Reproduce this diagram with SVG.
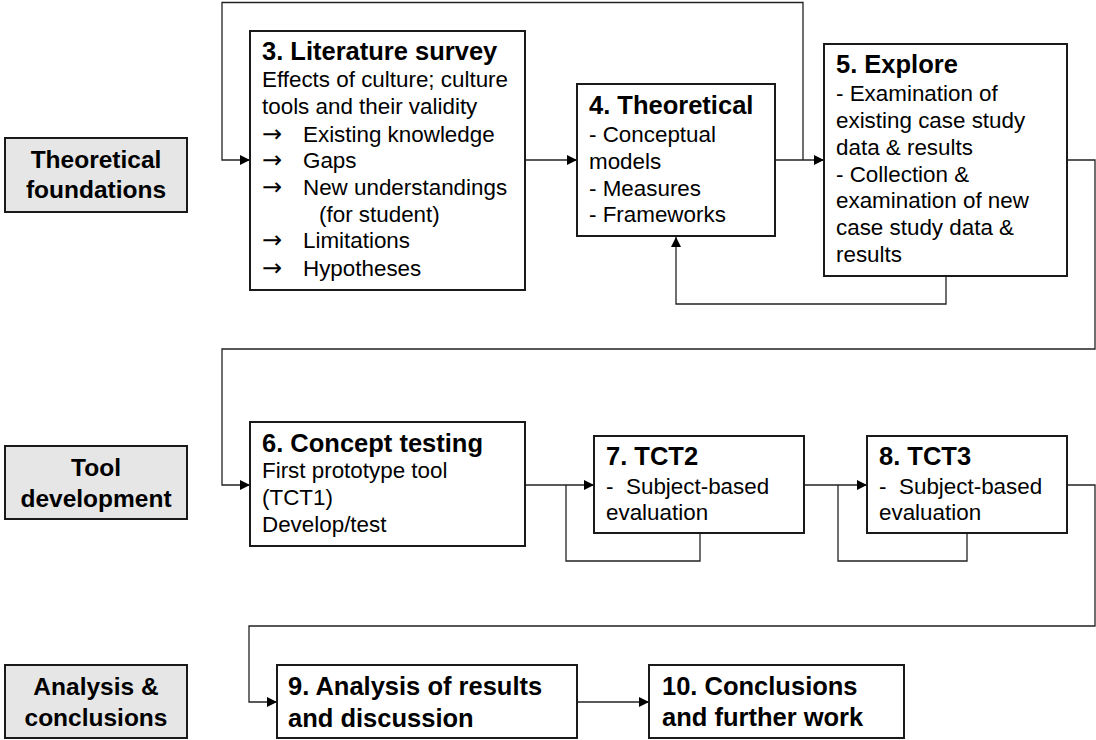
<svg xmlns="http://www.w3.org/2000/svg" width="1096" height="740" viewBox="0 0 1096 740">
  <defs>
    <style>
      .box { fill: #ffffff; stroke: #1a1a1a; stroke-width: 2; }
      .stage { fill: #e6e6e6; stroke: #1a1a1a; stroke-width: 2; }
      .wire { fill: none; stroke: #222222; stroke-width: 1.3; }
      text { font-family: "Liberation Sans", Arial, "DejaVu Sans", sans-serif; fill: #000000; }
      .title { font-size: 25.5px; font-weight: bold; }
      .body { font-size: 22.4px; }
      .arrowch { font-family: "DejaVu Sans", sans-serif; font-size: 24px; }
      .stagetxt { font-size: 24.5px; font-weight: bold; text-anchor: middle; }
    </style>
    <marker id="head" viewBox="0 0 10 10" refX="10" refY="5" markerWidth="10" markerHeight="10" markerUnits="userSpaceOnUse" orient="auto">
      <path d="M0,0 L10,5 L0,10 z" fill="#000000"/>
    </marker>
  </defs>

  <!-- phase labels -->
  <g id="stage-theory">
    <rect class="stage" x="5" y="138" width="182" height="74"/>
    <text class="stagetxt" x="96" y="168">Theoretical</text>
    <text class="stagetxt" x="96" y="198">foundations</text>
  </g>
  <g id="stage-tool">
    <rect class="stage" x="5" y="446" width="182" height="73"/>
    <text class="stagetxt" x="96" y="476">Tool</text>
    <text class="stagetxt" x="96" y="507">development</text>
  </g>
  <g id="stage-analysis">
    <rect class="stage" x="5" y="665" width="182" height="73"/>
    <text class="stagetxt" x="96" y="695">Analysis &amp;</text>
    <text class="stagetxt" x="96" y="726">conclusions</text>
  </g>

  <!-- connectors -->
  <g id="connectors">
    <path class="wire" d="M803,160 V2.5 H222 V160 H250" marker-end="url(#head)"/>
    <path class="wire" d="M525,160 H577" marker-end="url(#head)"/>
    <path class="wire" d="M775,160 H824" marker-end="url(#head)"/>
    <path class="wire" d="M946,276 V304 H676 V237" marker-end="url(#head)"/>
    <path class="wire" d="M1067,160 H1095 V349 H222 V485 H250" marker-end="url(#head)"/>
    <path class="wire" d="M525,485 H594" marker-end="url(#head)"/>
    <path class="wire" d="M566,485 V561 H700 V533"/>
    <path class="wire" d="M804,485 H867" marker-end="url(#head)"/>
    <path class="wire" d="M838,485 V561 H967 V533"/>
    <path class="wire" d="M1067,485 H1095 V626 H249 V702 H277" marker-end="url(#head)"/>
    <path class="wire" d="M577,702 H649" marker-end="url(#head)"/>
  </g>

  <!-- step 3 -->
  <g id="n3">
    <rect class="box" x="250" y="31" width="275" height="259"/>
    <text class="title" x="262" y="60">3. Literature survey</text>
    <text class="body" x="262" y="87">Effects of culture; culture</text>
    <text class="body" x="262" y="114">tools and their validity</text>
    <text class="arrowch" x="262" y="142">→</text><text class="body" x="303" y="142">Existing knowledge</text>
    <text class="arrowch" x="262" y="168">→</text><text class="body" x="303" y="168">Gaps</text>
    <text class="arrowch" x="262" y="195">→</text><text class="body" x="303" y="195">New understandings</text>
    <text class="body" x="319" y="222">(for student)</text>
    <text class="arrowch" x="262" y="248">→</text><text class="body" x="303" y="248">Limitations</text>
    <text class="arrowch" x="262" y="276">→</text><text class="body" x="303" y="276">Hypotheses</text>
  </g>

  <!-- step 4 -->
  <g id="n4">
    <rect class="box" x="577" y="84" width="198" height="152"/>
    <text class="title" x="589" y="114">4. Theoretical</text>
    <text class="body" x="589" y="142">- Conceptual</text>
    <text class="body" x="589" y="169">models</text>
    <text class="body" x="589" y="196">- Measures</text>
    <text class="body" x="589" y="222">- Frameworks</text>
  </g>

  <!-- step 5 -->
  <g id="n5">
    <rect class="box" x="824" y="44" width="243" height="232"/>
    <text class="title" x="836" y="73">5. Explore</text>
    <text class="body" x="836" y="101">- Examination of</text>
    <text class="body" x="836" y="128">existing case study</text>
    <text class="body" x="836" y="155">data &amp; results</text>
    <text class="body" x="836" y="182">- Collection &amp;</text>
    <text class="body" x="836" y="208">examination of new</text>
    <text class="body" x="836" y="235">case study data &amp;</text>
    <text class="body" x="836" y="262">results</text>
  </g>

  <!-- step 6 -->
  <g id="n6">
    <rect class="box" x="250" y="422" width="275" height="124"/>
    <text class="title" x="262" y="452">6. Concept testing</text>
    <text class="body" x="262" y="478">First prototype tool</text>
    <text class="body" x="262" y="505">(TCT1)</text>
    <text class="body" x="262" y="532">Develop/test</text>
  </g>

  <!-- step 7 -->
  <g id="n7">
    <rect class="box" x="594" y="436" width="210" height="97"/>
    <text class="title" x="606" y="465">7. TCT2</text>
    <text class="body" x="606" y="494">-</text><text class="body" x="626" y="494">Subject-based</text>
    <text class="body" x="606" y="520">evaluation</text>
  </g>

  <!-- step 8 -->
  <g id="n8">
    <rect class="box" x="867" y="436" width="200" height="97"/>
    <text class="title" x="879" y="465">8. TCT3</text>
    <text class="body" x="879" y="494">-</text><text class="body" x="899" y="494">Subject-based</text>
    <text class="body" x="879" y="520">evaluation</text>
  </g>

  <!-- step 9 -->
  <g id="n9">
    <rect class="box" x="277" y="665" width="300" height="73"/>
    <text class="title" x="288" y="695">9. Analysis of results</text>
    <text class="title" x="288" y="727">and discussion</text>
  </g>

  <!-- step 10 -->
  <g id="n10">
    <rect class="box" x="649" y="665" width="255" height="73"/>
    <text class="title" x="662" y="695">10. Conclusions</text>
    <text class="title" x="662" y="726">and further work</text>
  </g>
</svg>
